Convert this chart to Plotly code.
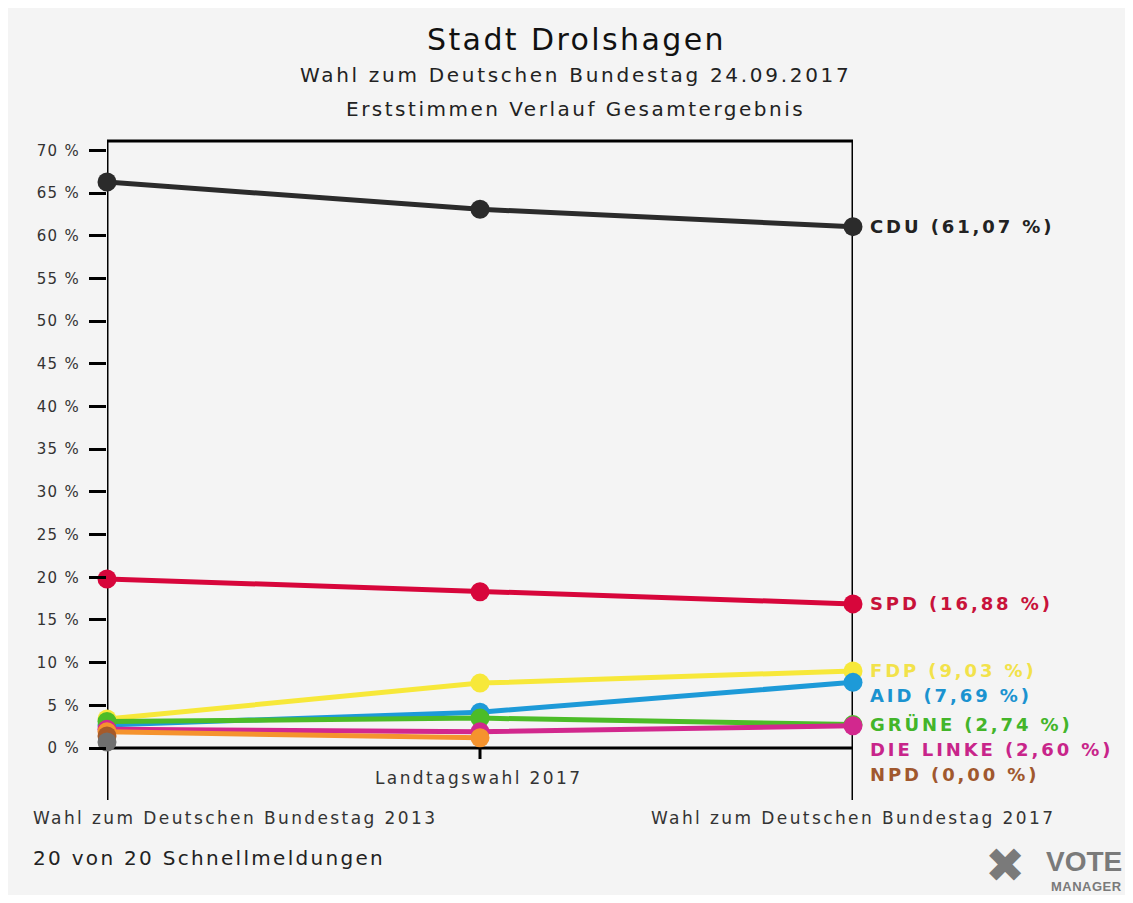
import plotly.graph_objects as go

# ---- data ----
elections = ["Wahl zum Deutschen Bundestag 2013", "Landtagswahl 2017", "Wahl zum Deutschen Bundestag 2017"]
x_idx = [0, 1, 2]
parties = ["CDU", "SPD", "FDP", "AID", "GRÜNE", "DIE LINKE", "PIRATEN", "NPD", "Sonstige"]
cdu = [66.3, 63.1, 61.07]
spd = [19.8, 18.3, 16.88]
fdp = [3.4, 7.6, 9.03]
aid = [2.7, 4.2, 7.69]
gruene = [3.1, 3.5, 2.74]
linke = [2.2, 1.9, 2.60]
piraten = [1.9, 1.2, None]
npd = [1.4, None, None]
sonstige = [0.7, None, None]
series = [cdu, spd, fdp, aid, gruene, linke, piraten, npd, sonstige]
label_parties = ["CDU", "SPD", "FDP", "AID", "GRÜNE", "DIE LINKE", "NPD"]
label_results = [61.07, 16.88, 9.03, 7.69, 2.74, 2.60, 0.00]
y_ticks = list(range(0, 75, 5))

colors = {
    "CDU": "#2b2b2b", "SPD": "#d7063b", "FDP": "#f7e83a", "AID": "#1d9ad8",
    "GRÜNE": "#4cbc28", "DIE LINKE": "#d2288e", "PIRATEN": "#f5932e",
    "NPD": "#a65a2a", "Sonstige": "#707070",
}
label_colors = {
    "CDU": "#222222", "SPD": "#c8123a", "FDP": "#f2e24a", "AID": "#1b93d0",
    "GRÜNE": "#43b52a", "DIE LINKE": "#c8258a", "NPD": "#a0582e",
}

FONT = "DejaVu Sans"

def sp(text, ls):
    return f'<span style="letter-spacing:{ls}px">{text}</span>'

# page geometry (the page body has an 8px margin)
OFF = 8
W, H = 1133 - 2 * OFF, 903 - 2 * OFF
X0, X1, Y0, Y1 = 107, 853, 748, 141  # plot box in page pixels
L, R, T, B = X0 - OFF, W - (X1 - OFF), Y1 - OFF, H - (Y0 - OFF)
plot_h = Y0 - Y1
plot_w = X1 - X0
ymax = 71.1

def py(pix):
    return (Y0 - pix) / plot_h

def px(pix):
    return (pix - X0) / plot_w

fig = go.Figure()
for name, vals in zip(parties, series):
    fig.add_trace(go.Scatter(
        x=x_idx, y=vals, mode="lines+markers", name=name,
        line=dict(color=colors[name], width=5),
        marker=dict(color=colors[name], size=19),
        cliponaxis=False, connectgaps=False, showlegend=False,
        hoverinfo="skip",
    ))

# right-hand labels, de-overlapped
gap = 25 * ymax / plot_h
prev = None
order = sorted(range(len(label_parties)), key=lambda i: -label_results[i])
for i in order:
    name, v = label_parties[i], label_results[i]
    ly = v if prev is None else min(v, prev - gap)
    prev = ly
    txt = f"{name} ({v:.2f} %)".replace(".", ",")
    fig.add_annotation(x=1, y=ly / ymax, xref="paper", yref="paper", text=sp(txt, 2.9),
                       showarrow=False, xanchor="left", yanchor="middle", xshift=15,
                       font=dict(family=FONT, size=18, color=label_colors[name], weight="bold"))

shapes = [
    dict(type="line", xref="x", yref="paper", x0=0, x1=2, y0=1, y1=1),
    dict(type="line", xref="x", yref="paper", x0=0, x1=0, y0=py(800), y1=1),
    dict(type="line", xref="x", yref="paper", x0=2, x1=2, y0=py(800), y1=1),
    dict(type="line", xref="x", yref="paper", x0=0, x1=2, y0=0, y1=0),
    dict(type="line", xref="x", yref="paper", x0=1, x1=1, y0=py(759), y1=0),
]
for s in shapes:
    s["line"] = dict(color="black", width=3)
    s["layer"] = "below"
fig.update_layout(shapes=shapes)

cat_font = dict(family=FONT, size=17, color="#333")
# x category labels
fig.add_annotation(x=px(478), y=py(778), xref="paper", yref="paper", text=sp(elections[1], 2.4),
                   showarrow=False, xanchor="center", yanchor="middle", font=cat_font)
fig.add_annotation(x=px(31), y=py(818), xref="paper", yref="paper", text=sp(elections[0], 2.4),
                   showarrow=False, xanchor="left", yanchor="middle", font=cat_font)
fig.add_annotation(x=1, y=py(818), xref="paper", yref="paper", text=sp(elections[2], 2.4),
                   showarrow=False, xanchor="center", yanchor="middle", font=cat_font)

# titles
fig.add_annotation(x=px(576), y=py(40), xref="paper", yref="paper", text=sp("Stadt Drolshagen", 2.4),
                   showarrow=False, xanchor="center", yanchor="middle",
                   font=dict(family=FONT, size=30, color="#111"))
fig.add_annotation(x=px(575), y=py(75), xref="paper", yref="paper",
                   text=sp("Wahl zum Deutschen Bundestag 24.09.2017", 2.7), showarrow=False,
                   xanchor="center", yanchor="middle", font=dict(family=FONT, size=20, color="#222"))
fig.add_annotation(x=px(575), y=py(109), xref="paper", yref="paper",
                   text=sp("Erststimmen Verlauf Gesamtergebnis", 2.5), showarrow=False,
                   xanchor="center", yanchor="middle", font=dict(family=FONT, size=20, color="#222"))
fig.add_annotation(x=px(31), y=py(858), xref="paper", yref="paper",
                   text=sp("20 von 20 Schnellmeldungen", 2.3), showarrow=False,
                   xanchor="left", yanchor="middle", font=dict(family=FONT, size=20, color="#222"))
# logo
fig.add_annotation(x=px(1005), y=py(865), xref="paper", yref="paper", text="✖", showarrow=False,
                   xanchor="center", yanchor="middle",
                   font=dict(family="DejaVu Sans", size=48, color="#7a7a7a"))
fig.add_annotation(x=px(1124), y=py(862), xref="paper", yref="paper", text="<b>VOTE</b>",
                   showarrow=False, xanchor="right", yanchor="middle",
                   font=dict(family="Liberation Sans", size=28, color="#7a7a7a"))
fig.add_annotation(x=px(1124), y=py(886), xref="paper", yref="paper", text=sp("<b>MANAGER</b>", 0.5),
                   showarrow=False, xanchor="right", yanchor="middle",
                   font=dict(family="Liberation Sans", size=13, color="#7a7a7a"))

fig.update_layout(
    width=W, height=H,
    margin=dict(l=L, r=R, t=T, b=B, autoexpand=False),
    paper_bgcolor="#f4f4f4", plot_bgcolor="#f4f4f4",
    xaxis=dict(range=[0, 2], visible=False, fixedrange=True),
    yaxis=dict(range=[0, ymax], tickvals=y_ticks,
               ticktext=[sp(f"{v} %", 1.3) for v in y_ticks], showgrid=False,
               zeroline=False, showline=False, ticks="outside", ticklen=17, tickwidth=3,
               tickcolor="black", tickfont=dict(family=FONT, size=15, color="#333"),
               ticklabelstandoff=6, fixedrange=True),
)

fig.write_html("out.html")
